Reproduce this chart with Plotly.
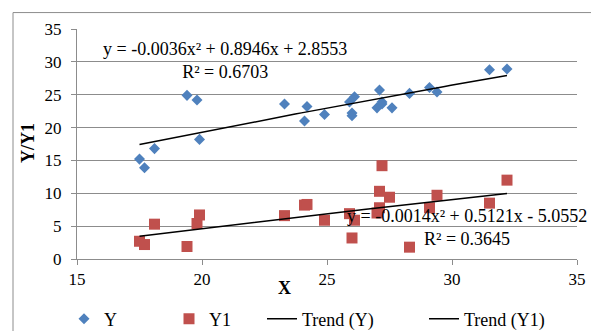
import numpy as np
import plotly.graph_objects as go

# ---- data ----
x_y = [17.5, 17.7, 18.1, 19.4, 19.8, 19.9, 23.3, 24.1, 24.2, 24.9, 25.9, 26.0, 26.0, 26.1,
       27.0, 27.1, 27.2, 27.2, 27.6, 28.3, 29.1, 29.4, 31.5, 32.2]
y_vals = [15.2, 13.9, 16.8, 24.9, 24.2, 18.2, 23.6, 21.0, 23.2, 22.0, 23.9, 22.2, 21.8, 24.7,
          23.0, 25.7, 23.6, 23.9, 23.0, 25.2, 26.1, 25.4, 28.8, 28.9]

x_y1 = [17.5, 17.7, 18.1, 19.4, 19.8, 19.9, 23.3, 24.1, 24.2, 24.9, 25.9, 26.0, 26.1,
        27.0, 27.1, 27.1, 27.2, 27.5, 28.3, 29.1, 29.4, 31.5, 32.2]
y1_vals = [2.7, 2.2, 5.3, 1.9, 5.4, 6.7, 6.6, 8.2, 8.3, 5.9, 6.9, 3.2, 5.9,
           7.0, 7.8, 10.3, 14.2, 9.4, 1.8, 7.8, 9.7, 8.5, 12.0]

coef_y = [-0.0036, 0.8946, 2.8553]
coef_y1 = [-0.0014, 0.5121, -5.0552]
eq_y = "y = -0.0036x² + 0.8946x + 2.8553<br>R² = 0.6703"
eq_y1 = "y = -0.0014x² + 0.5121x - 5.0552<br>R² = 0.3645"

x_ticks = [15, 20, 25, 30, 35]
y_ticks = [0, 5, 10, 15, 20, 25, 30, 35]

FONT = "Liberation Serif"
GRID = "#8c8c8c"
W, H = 591, 331

tx_y = np.linspace(min(x_y), max(x_y), 60)
ty_y = np.polyval(coef_y, tx_y)
tx_y1 = np.linspace(min(x_y1), max(x_y1), 60)
ty_y1 = np.polyval(coef_y1, tx_y1)

fig = go.Figure()
fig.add_trace(go.Scatter(x=x_y, y=y_vals, mode="markers", name="Y",
                         marker=dict(symbol="diamond", size=8.5, color="#4F81BD"),
                         legend="legend"))
fig.add_trace(go.Scatter(x=x_y1, y=y1_vals, mode="markers", name="Y1",
                         marker=dict(symbol="square", size=11, color="#C0504D"),
                         legend="legend"))
fig.add_trace(go.Scatter(x=tx_y, y=ty_y, mode="lines", name="Trend (Y)",
                         line=dict(color="black", width=1.5), legend="legend3"))
fig.add_trace(go.Scatter(x=tx_y1, y=ty_y1, mode="lines", name="Trend (Y1)",
                         line=dict(color="black", width=1.5), legend="legend2"))

# equations
fig.add_annotation(x=20.9, y=30.15, xref="x", yref="y", text=eq_y, showarrow=False,
                   xanchor="center", yanchor="middle",
                   font=dict(family=FONT, size=18, color="black"), align="center")
fig.add_annotation(x=30.58, y=4.8, xref="x", yref="y", text=eq_y1, showarrow=False,
                   xanchor="center", yanchor="middle",
                   font=dict(family=FONT, size=18, color="black"), align="center")

# axis titles
fig.add_annotation(x=(284 - 77) / 500, y=(259.5 - 289) / 231, xref="paper", yref="paper",
                   text="<b>X</b>", showarrow=False, xanchor="center", yanchor="middle",
                   font=dict(family=FONT, size=18, color="black"))
fig.add_annotation(x=(28 - 77) / 500, y=(259.5 - 143) / 231, xref="paper", yref="paper",
                   text="<b>Y/Y1</b>", showarrow=False, textangle=-90,
                   xanchor="center", yanchor="middle",
                   font=dict(family=FONT, size=18, color="black"))

# outer chart border (left and top visible)
fig.add_shape(type="rect", xref="paper", yref="paper",
              x0=(13 - 77) / 500, x1=(640 - 77) / 500,
              y0=(259.5 - 380) / 231, y1=(259.5 - 12) / 231,
              line=dict(color="#8c8c8c", width=1), layer="below")

fig.update_xaxes(range=[15, 35], tickvals=x_ticks, showgrid=False, zeroline=False,
                 showline=True, linecolor=GRID, linewidth=1,
                 ticks="outside", ticklen=5, tickcolor=GRID,
                 tickfont=dict(family=FONT, size=17, color="black"))
fig.update_yaxes(range=[0, 35], tickvals=y_ticks, showgrid=True, gridcolor=GRID, gridwidth=1,
                 zeroline=False, showline=True, linecolor=GRID, linewidth=1,
                 ticks="outside", ticklen=5, tickcolor=GRID, ticklabelstandoff=6,
                 tickfont=dict(family=FONT, size=17, color="black"))

legend_common = dict(orientation="h", xref="container", yref="container",
                     y=1 - 319 / H, xanchor="left", yanchor="middle",
                     font=dict(family=FONT, size=18, color="black"),
                     bgcolor="rgba(0,0,0,0)")

fig.update_layout(
    width=W, height=H,
    margin=dict(l=77, r=14, t=28.5, b=71.5, autoexpand=False),
    paper_bgcolor="white", plot_bgcolor="white",
    font=dict(family=FONT, size=18, color="black"),
    legend=dict(legend_common, x=64 / W, entrywidth=60, entrywidthmode="pixels"),
    legend3=dict(legend_common, x=262 / W),
    legend2=dict(legend_common, x=424 / W),
)

fig.write_html("out.html")
